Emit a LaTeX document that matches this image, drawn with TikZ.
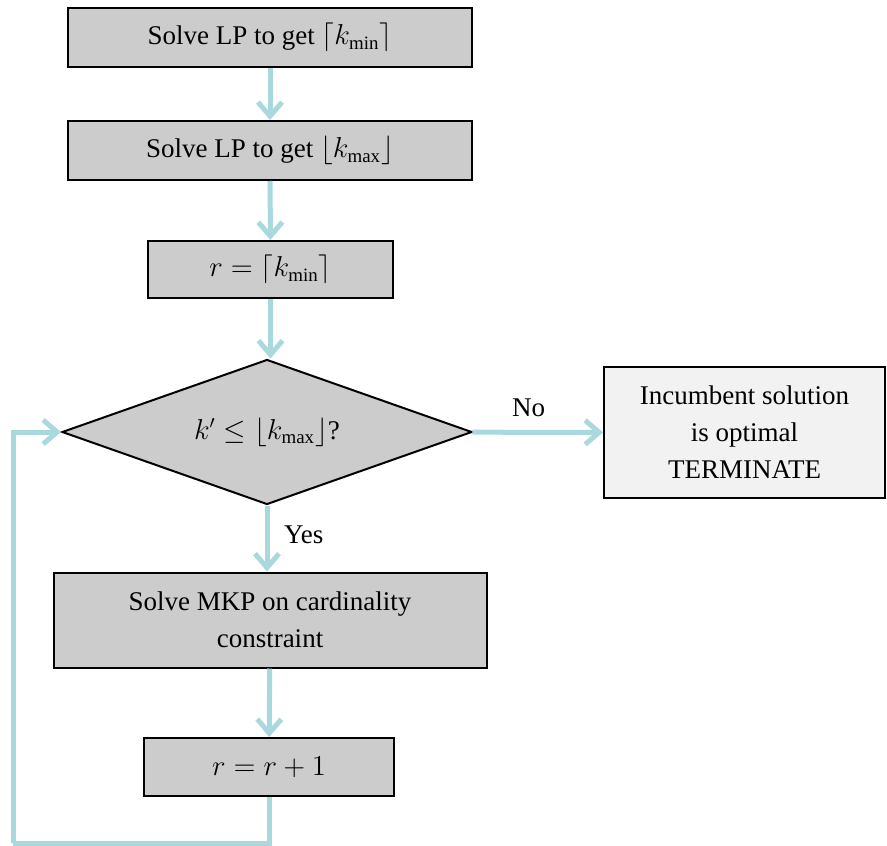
\documentclass[tikz,border=0pt]{standalone}
\usepackage{fontspec}
\setmainfont{Liberation Serif}
\usepackage{xcolor}
\definecolor{flowGray}{HTML}{CCCCCC}
\definecolor{flowPale}{HTML}{F2F2F2}
\definecolor{flowArrow}{HTML}{A9D9DD}
\usepackage{tikz}
\usetikzlibrary{arrows.meta,positioning,shapes.geometric}

\begin{document}
\begin{tikzpicture}[
  x=0.5pt, y=-0.5pt,
  font=\rmfamily\fontsize{13.5pt}{18.5pt}\selectfont,
  box/.style={draw=black,fill=flowGray,line width=1pt,align=center,inner sep=2pt},
  decide/.style={diamond,draw=black,fill=flowGray,line width=1pt,inner sep=0pt,
                 aspect=2.83,minimum width=205pt,minimum height=72.5pt},
  stopbox/.style={box,fill=flowPale},
  flow/.style={-{Straight Barb[length=7pt,width=12pt]},line width=2.5pt,flowArrow},
  back/.style={line width=2.5pt,flowArrow},
  tag/.style={text=black}
]
\useasboundingbox (0,0) rectangle (887,845);
% nodes
\node[box, minimum width=202pt, minimum height=29.5pt] (lpmin) at (270,37.5)
  {Solve LP to get $\lceil k_{\min}\rceil$};
\node[box, minimum width=202pt, minimum height=29.5pt] (lpmax) at (270,150.5)
  {Solve LP to get $\lfloor k_{\max}\rfloor$};
\node[box, minimum width=122.5pt, minimum height=28.5pt] (init) at (270.5,269.5)
  {$r=\lceil k_{\min}\rceil$};
\node[decide] (test) at (267,432) {$k'\leq\lfloor k_{\max}\rfloor$?};
\node[stopbox, minimum width=140.5pt, minimum height=65.5pt] (stop) at (744.5,432.5)
  {Incumbent solution\\ is optimal\\ TERMINATE};
\node[box, minimum width=216.5pt, minimum height=47.5pt] (mkp) at (270,620)
  {Solve MKP on cardinality\\ constraint};
\node[box, minimum width=125pt, minimum height=29pt] (incr) at (269,767)
  {$r=r+1$};
\coordinate (low) at (13,843);

% arrows
\draw[flow] (lpmin) -- (lpmax);
\draw[flow] (lpmax) -- (init);
\draw[flow] (init.south) -- (init.south |- test.north);
\draw[flow] (test) -- node[tag, above=3pt, pos=0.43]{No} (stop);
\draw[flow] (test.south) -- node[tag, right=4pt, pos=0.45]{Yes} (test.south |- mkp.north);
\draw[flow] (mkp) -- (incr);
\draw[back] (incr.south) |- (low);
\draw[flow] (low) |- (test.west);
\end{tikzpicture}
\end{document}
